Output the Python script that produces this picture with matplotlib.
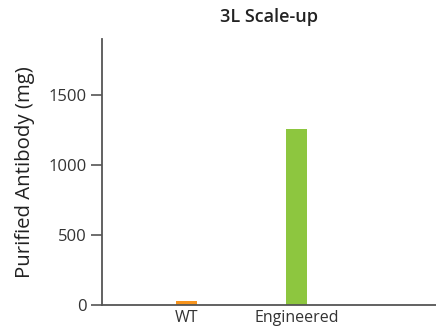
import matplotlib
matplotlib.use("Agg")
import matplotlib.pyplot as plt

categories = ["WT", "Engineered"]
values = [25, 1260]
colors = ["#F7941D", "#8DC63F"]
yticks = [0, 500, 1000, 1500]

plt.rcParams["font.family"] = ["Open Sans", "DejaVu Sans"]

fig = plt.figure(figsize=(4.36, 3.31), dpi=100)
ax = fig.add_axes([0.234, 0.079, 0.766, 0.803])

x = list(range(len(categories)))
ax.bar(x, values, width=0.19, color=colors)

ax.set_xlim(-0.77, 2.27)
ax.set_ylim(0, 1900)
ax.set_yticks(yticks)
ax.set_xticks(x)
ax.set_xticklabels(categories, fontsize=11.5, color="#333333")
ax.tick_params(axis="x", length=0, pad=4)
ax.tick_params(axis="y", length=8, width=1.2, color="#555555", labelsize=12,
               labelcolor="#333333", pad=3)

for side in ["top", "right"]:
    ax.spines[side].set_visible(False)
for side in ["left", "bottom"]:
    ax.spines[side].set_color("#555555")
    ax.spines[side].set_linewidth(1.3)

ax.set_ylabel("Purified Antibody (mg)", fontsize=14.7, color="#222222")
ax.yaxis.set_label_coords(-0.2, 0.5)
ax.set_title("3L Scale-up", fontsize=13, fontweight="semibold", color="#222222", pad=12)

fig.savefig("out.png", dpi=100)
